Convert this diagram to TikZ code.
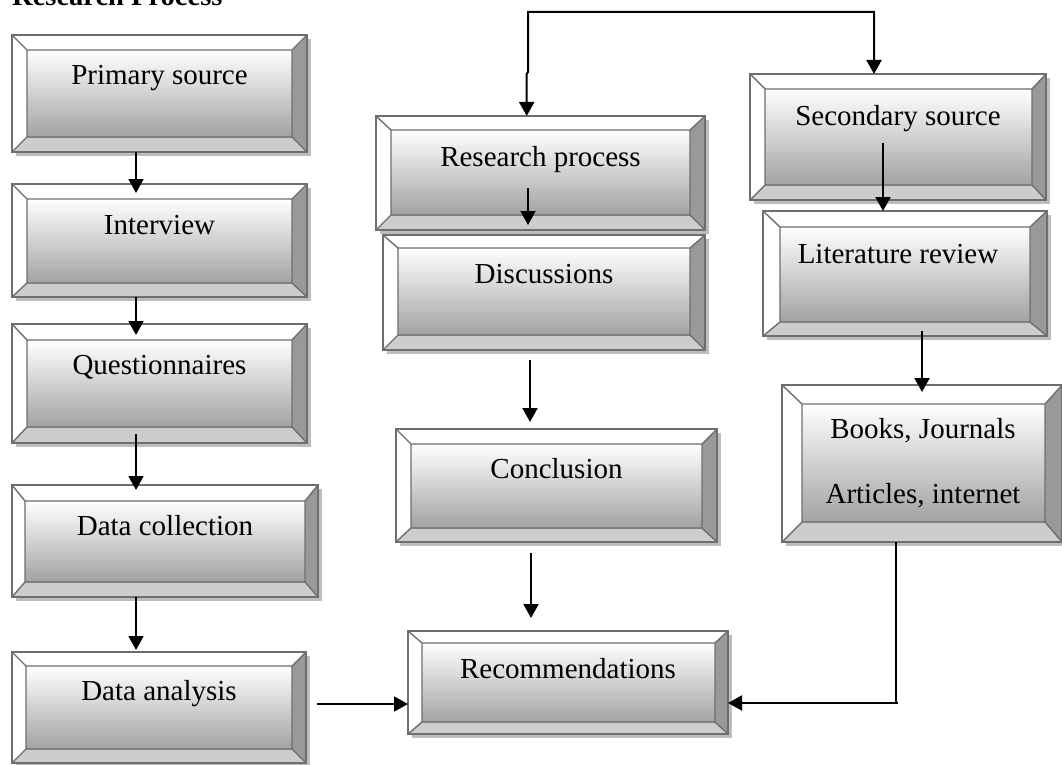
\documentclass[tikz,border=0pt]{standalone}
\usepackage{fontspec}
\setmainfont{Liberation Serif}
\usetikzlibrary{arrows.meta,calc}
\definecolor{edgec}{HTML}{6E6E6E}
\definecolor{rightc}{HTML}{999999}
\definecolor{botc}{HTML}{CDCDCD}
\definecolor{shadc}{HTML}{BDBDBD}
\definecolor{facebot}{HTML}{A2A2A2}
\tikzset{
  boxedge/.style={draw=edgec, line width=1.4pt},
  boxnode/.style={draw=edgec, line width=1.6pt, inner sep=0pt, outer sep=0pt},
  lbl/.style={inner sep=0pt, anchor=base, font=\fontsize{29}{35}\selectfont},
  arr/.style={line width=2pt, -{Triangle[length=14pt,width=15pt]}},
  thinline/.style={line width=1.2pt},
}
\newcommand\bevbox[9]{%
  \fill[shadc] (#2+4,#3+4) rectangle (#4+4,#5+4);
  \fill[white] (#2,#3) -- (#4,#3) -- (#8,#7) -- (#6,#7) -- cycle;
  \fill[white] (#2,#3) -- (#6,#7) -- (#6,#9) -- (#2,#5) -- cycle;
  \fill[rightc] (#4,#3) -- (#8,#7) -- (#8,#9) -- (#4,#5) -- cycle;
  \fill[botc] (#2,#5) -- (#6,#9) -- (#8,#9) -- (#4,#5) -- cycle;
  \shade[top color=white, bottom color=facebot] (#6,#7) rectangle (#8,#9);
  \draw[boxedge] (#6,#7) rectangle (#8,#9) (#2,#3) -- (#6,#7) (#4,#3) -- (#8,#7) (#2,#5) -- (#6,#9) (#4,#5) -- (#8,#9);
  \node[boxnode, minimum width={#4-#2}, minimum height={#5-#3}] (#1) at ({(#2+#4)/2},{(#3+#5)/2}) {};
}
\begin{document}
\begin{tikzpicture}[x=1pt,y=-1pt]
\fill[white] (0,0) rectangle (1062,765);
\useasboundingbox (0,0) rectangle (1062,765);

\node[anchor=base west, inner sep=0pt, font=\bfseries\fontsize{28.5}{34}\selectfont] (title) at (12,6) {Research Process};

% left column
\bevbox{ps}{12}{35}{307}{152}{27}{50}{292}{137}
\node[lbl] (ps-t) at (159.5,85) {Primary source};
\bevbox{iv}{12}{184}{307}{297}{27}{199}{292}{283}
\node[lbl] (iv-t) at (159.5,234) {Interview};
\bevbox{qn}{12}{324}{307}{443}{27}{340}{292}{427}
\node[lbl] (qn-t) at (159.5,374) {Questionnaires};
\bevbox{dc}{12}{485}{318}{597}{25}{501}{305}{582}
\node[lbl] (dc-t) at (165,535) {Data collection};
\bevbox{da}{12}{652}{306}{763}{26}{666}{292}{749}
\node[lbl] (da-t) at (159,700) {Data analysis};

% middle column
\bevbox{rp}{376}{116}{705}{230}{391}{130}{690}{215}
\node[lbl] (rp-t) at (540.5,166) {Research process};
\bevbox{di}{383}{235}{705}{350}{398}{248}{690}{335}
\node[lbl] (di-t) at (544,283) {Discussions};
\bevbox{co}{396}{429}{717}{542}{411}{444}{702}{528}
\node[lbl] (co-t) at (556.5,478) {Conclusion};
\bevbox{re}{408}{631}{728}{734}{422}{643}{715}{722}
\node[lbl] (re-t) at (568,678) {Recommendations};

% right column
\bevbox{ss}{750}{74}{1046}{200}{765}{89}{1032}{185}
\node[lbl] (ss-t) at (898,125) {Secondary source};
\bevbox{lr}{763}{211}{1047}{336}{780}{227}{1030}{322}
\node[lbl] (lr-t) at (898,263) {Literature review};
\bevbox{bj}{782}{385}{1062}{542}{802}{404}{1045}{522}
\node[lbl] (bj-t1) at (923,438) {Books, Journals};
\node[lbl] (bj-t2) at (923,503) {Articles, internet};

% helper coordinates
\coordinate (lcol) at (136,0);
\coordinate (mcolA) at (528,0);
\coordinate (mcolB) at (530,0);
\coordinate (mcolC) at (531,0);
\coordinate (rcolA) at (883,0);
\coordinate (rcolB) at (922,0);
\coordinate (rowA) at (0,704);
\coordinate (j1) at (526.7,74);
\coordinate (j2) at (528,72);
\coordinate (t1) at (528,12);
\coordinate (t2) at (874,12);
\coordinate (c1) at (896,703);

% left column connectors
\draw[arr] (ps.south -| lcol) -- ($(iv.north -| lcol)+(0,9)$);
\draw[arr] (iv.south -| lcol) -- ($(qn.north -| lcol)+(0,11)$);
\draw[arr] ($(qn.south -| lcol)+(0,-9)$) -- ($(dc.north -| lcol)+(0,5)$);
\draw[arr] (dc.south -| lcol) -- ($(da.north -| lcol)+(0,-2)$);
\draw[arr] ($(da.east |- rowA)+(11,0)$) -- (re.west |- rowA);

% top connector
\draw[line width=2pt, {Triangle[length=14pt,width=15pt]}-{Triangle[length=14pt,width=15pt]}]
  (rp.north -| j1) -- (j1) -- (j2) -- (t1) -- (t2) -- (ss.north -| t2);

% middle connectors
\draw[arr] ($(rp.south -| mcolA)+(0,-42)$) -- ($(di.north -| mcolA)+(0,-10)$);
\draw[arr] ($(di.south -| mcolB)+(0,10)$) -- ($(co.north -| mcolB)+(0,-7)$);
\draw[arr] ($(co.south -| mcolC)+(0,11)$) -- ($(re.north -| mcolC)+(0,-13)$);

% right connectors
\draw[arr] ($(ss.south -| rcolA)+(0,-57)$) -- (lr.north -| rcolA);
\draw[arr] ($(lr.south -| rcolB)+(0,-5)$) -- ($(bj.north -| rcolB)+(0,7)$);
\draw[thinline] (bj.south -| c1) -- (c1);
\draw[arr] ($(c1)+(2,0)$) -- (re.east |- c1);
\end{tikzpicture}
\end{document}
